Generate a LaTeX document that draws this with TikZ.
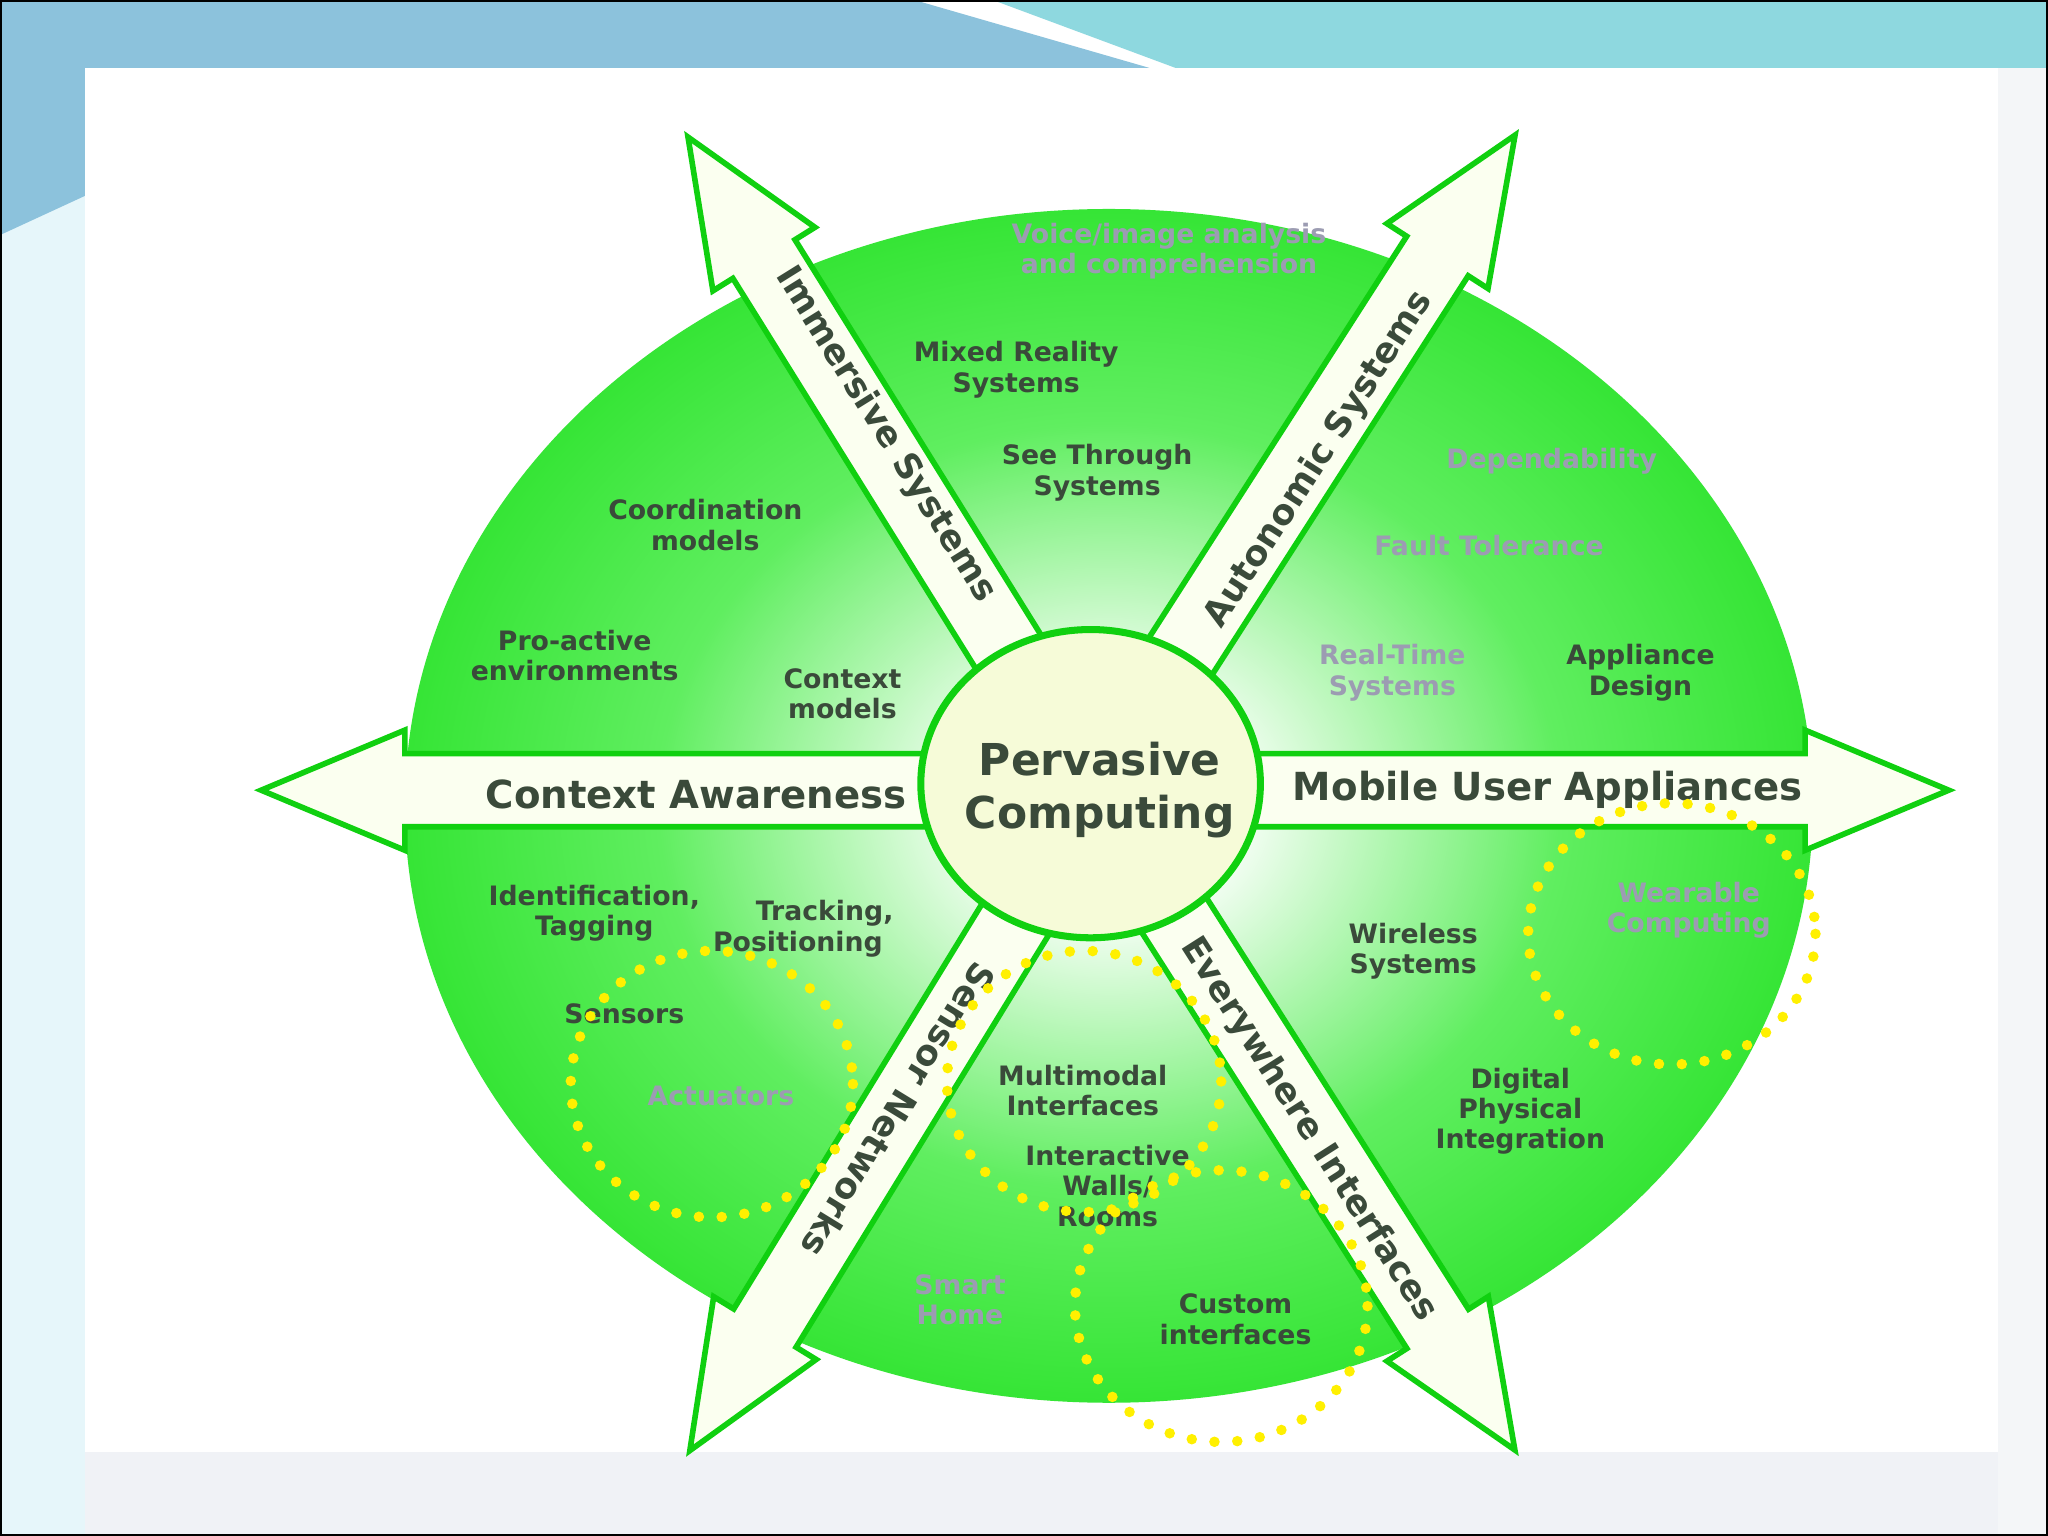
\documentclass[tikz,border=0pt]{standalone}
\usepackage{fontspec}
\setmainfont{DejaVu Sans}
\usetikzlibrary{calc}
\definecolor{gr1}{HTML}{1EE01E}
\definecolor{gr2}{HTML}{60EE60}
\definecolor{gline}{HTML}{10D010}
\definecolor{txt}{HTML}{3A4A3A}
\definecolor{faint}{HTML}{9C9CB2}
\definecolor{dotc}{HTML}{FFF000}
\definecolor{band}{HTML}{FBFFF0}
\definecolor{hub}{HTML}{F6FBD8}
\definecolor{bgA}{HTML}{8CC2DC}
\definecolor{bgB}{HTML}{8ED8DF}
\definecolor{bgL}{HTML}{E6F6FA}
\definecolor{bgG}{HTML}{F0F2F6}
\definecolor{bgR}{HTML}{F4F6F8}
\pgfdeclareradialshading{greenrad}{\pgfpoint{0bp}{0bp}}{color(0bp)=(white); color(4bp)=(white); color(16bp)=(gr2); color(30bp)=(gr1); color(60bp)=(gr1)}
\tikzset{
 armshape/.style={fill=band, draw=gline, line width=1.6pt, line join=miter},
 lbl/.style={font=\bfseries\fontsize{7.6}{8.6}\selectfont, text=txt, align=center, inner sep=0pt},
 flbl/.style={lbl, text=faint},
 big/.style={font=\bfseries\fontsize{11}{12}\selectfont, text=txt, inner sep=0pt},
 diag/.style={big, font=\bfseries\fontsize{10}{11}\selectfont},
 yring/.style={draw=dotc, line width=3pt, line cap=round, dash pattern=on 0pt off 6.5pt}
}
\begin{document}
\begin{tikzpicture}[x=0.013061cm,y=-0.013061cm]
\useasboundingbox (0,0) rectangle (1568,1176);
% background
\fill[white] (0,0) rectangle (1568,1176);
\fill[bgL] (0,0) rectangle (65,1176);
\fill[bgA] (0,0) -- (700,0) -- (880,52) -- (0,52) -- cycle;
\fill[bgB] (760,0) -- (1568,0) -- (1568,52) -- (900,52) -- cycle;
\fill[bgA] (0,52) -- (65,52) -- (65,150) -- (0,180) -- cycle;
\fill[bgG] (65,1112) rectangle (1530,1176);
\fill[bgR] (1530,52) rectangle (1568,1176);
\draw[black, line width=1pt] (0,0) rectangle (1568,1176);
% green disc
\path[shading=greenrad] (849,617) ellipse [x radius=539, y radius=457];
% arms
\foreach \A/\L in {121.9/589, 57.3/596, 238.5/593, 302.5/599, 180/638, 0/654}{
  \path[armshape, shift={(838,605)}, rotate=\A]
   (0,-28) -- ({\L-110},-28) -- ({\L-110},-46) -- (\L,0) -- ({\L-110},46) -- ({\L-110},28) -- (0,28) -- cycle;
}
% hub
\fill[hub, draw=gline, line width=2pt] (835,600) ellipse [x radius=130, y radius=118];
\node (pc) [font=\bfseries\fontsize{12.5}{15}\selectfont, text=txt, align=center] at (842,605) {Pervasive\\Computing};
% axis labels
\node (ca) [big] at (533,608) {Context Awareness};
\node (mua) [big] at (1185,605) {Mobile User Appliances};
\node (is) [diag, rotate=-58.1] at (678,333) {Immersive Systems};
\node (as) [diag, rotate=57.3] at (1010,352) {Autonomic Systems};
\node (sn) [diag, rotate=-121.5] at (688,850) {Sensor Networks};
\node (ei) [diag, rotate=-57.5] at (1002,865) {Everywhere Interfaces};
% sector labels
\node (via) [flbl] at (895,192) {Voice/image analysis\\and comprehension};
\node (mrs) [lbl] at (778,283) {Mixed Reality\\Systems};
\node (sts) [lbl] at (840,362) {See Through\\Systems};
\node (cm) [lbl] at (540,402) {Coordination\\models};
\node (pae) [lbl] at (440,502) {Pro-active\\environments};
\node (ctm) [lbl] at (645,531) {Context\\models};
\node (dep) [flbl] at (1188,353) {Dependability};
\node (ft) [flbl] at (1140,418) {Fault Tolerance};
\node (rts) [flbl] at (1066,515) {Real-Time\\Systems};
\node (ad) [lbl] at (1256,515) {Appliance\\Design};
\node (it) [lbl] at (455,699) {Identification,\\Tagging};
\node (tp) [lbl, align=left] at (615,711) {\hspace*{1.6em}Tracking,\\Positioning};
\node (sen) [lbl] at (478,776) {Sensors};
\node (act) [flbl] at (552,839) {Actuators};
\node (ws) [lbl] at (1082,728) {Wireless\\Systems};
\node (wc) [flbl] at (1293,697) {Wearable\\Computing};
\node (mi) [lbl] at (829,835) {Multimodal\\Interfaces};
\node (dpi) [lbl] at (1164,851) {Digital\\Physical\\Integration};
\node (iwr) [lbl] at (848,908) {Interactive\\Walls/\\Rooms};
\node (sh) [flbl] at (735,995) {Smart\\Home};
\node (ci) [lbl] at (946,1010) {Custom\\interfaces};
% yellow dotted rings
\draw[yring] (545,830) ellipse [x radius=108, y radius=102];
\draw[yring] (830,828) ellipse [x radius=105, y radius=100];
\draw[yring] (935,1000) ellipse [x radius=112, y radius=104];
\draw[yring] (1280,715) ellipse [x radius=110, y radius=100];
\end{tikzpicture}
\end{document}
